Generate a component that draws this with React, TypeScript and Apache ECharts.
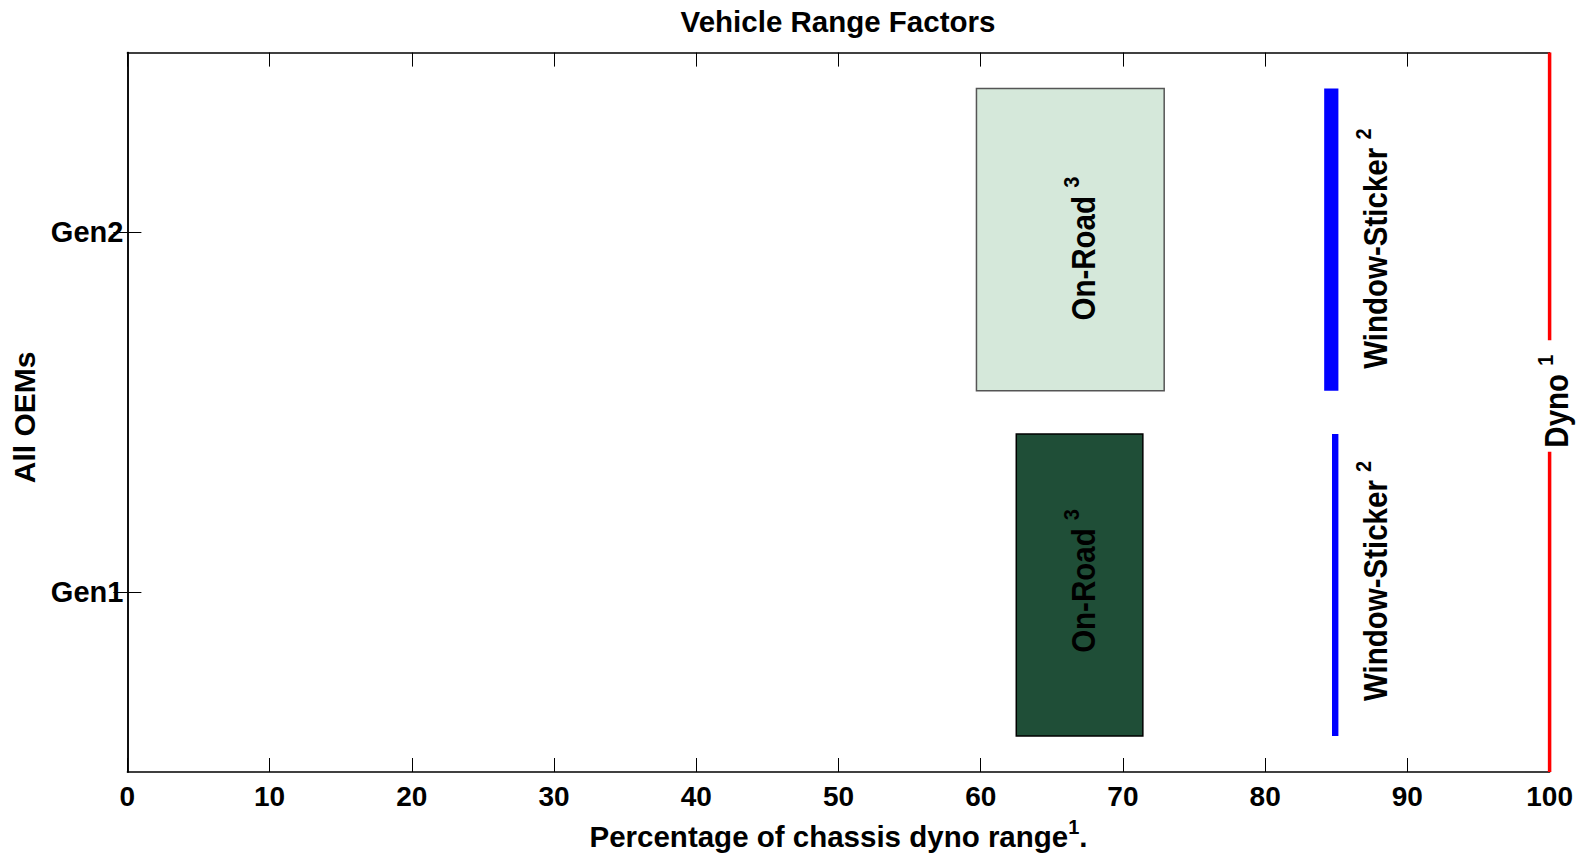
import React, { useEffect, useRef } from 'react';
import * as echarts from 'echarts';

// ---------------- data ----------------
const categories = ['Gen1', 'Gen2'];
const xMin = 0;
const xMax = 100;
const xInterval = 10;
const yMin = 0.5;
const yMax = 2.5;

// On-Road range boxes (percent of dyno range)
const onRoadLow = [62.5, 59.7];
const onRoadHigh = [71.4, 72.9];
const boxBottom = [0.6, 1.56];
const boxTop = [1.44, 2.4];

// Window-sticker range (percent)
const stickerLow = [84.7, 84.15];
const stickerHigh = [85.15, 85.15];

// Dyno reference line
const dynoValue = 100;
const dynoSegments = [
  [0.5, 1.39],
  [1.7, 2.5],
];

// annotation texts
const onRoadText = 'On-Road';
const onRoadNote = '3';
const stickerText = 'Window-Sticker';
const stickerNote = '2';
const dynoText = 'Dyno';
const dynoNote = '1';
const onRoadLabelX = 67.2;

const titleText = 'Vehicle Range Factors';
const xName = 'Percentage of chassis dyno range';
const xNameNote = '1';
const yName = 'All OEMs';

// ---------------- styles ----------------
const FONT = 'Liberation Sans';
const boxFill = ['#1f4e37', '#d5e8da'];
const boxStroke = ['#000000', '#555555'];
const stickerColor = '#0000ff';
const dynoColor = '#ff0000';
const labelShift = [-4, 9];

const rotRich = {
  m: { fontSize: 29.5, fontWeight: 'bold', fontFamily: FONT, lineHeight: 36, verticalAlign: 'bottom', fill: '#000', color: '#000' },
  s: { fontSize: 20, fontWeight: 'bold', fontFamily: FONT, lineHeight: 36, verticalAlign: 'top', fill: '#000', color: '#000' },
};

function rotatedLabel(x: number, y: number, text: string, note: string) {
  return {
    type: 'text',
    x,
    y,
    rotation: Math.PI / 2,
    scaleY: 1.12,
    z2: 10,
    style: {
      text: `{m|${text} }{s|${note}}`,
      rich: rotRich,
      align: 'center',
      verticalAlign: 'middle',
      fill: '#000',
      font: `bold 29.5px ${FONT}`,
    },
  };
}

export default function App() {
  const ref = useRef<HTMLDivElement>(null);

  useEffect(() => {
    if (!ref.current) return;
    const chart = echarts.init(ref.current, undefined, { renderer: 'svg' });

    const axisLine = { show: true, lineStyle: { color: '#000', width: 1.5 } };
    const tickStyle = { color: '#000', width: 1 };

    const option: any = {
      animation: false,
      backgroundColor: '#ffffff',
      title: {
        text: titleText,
        left: 833,
        top: 1,
        textAlign: 'center',
        textStyle: { fontFamily: FONT, fontWeight: 'bold', fontSize: 29.5, color: '#000' },
      },
      grid: { left: 127.4, right: 35.4, top: 52.6, bottom: 80.7, containLabel: false },
      xAxis: [
        {
          type: 'value',
          position: 'bottom',
          min: xMin,
          max: xMax,
          interval: xInterval,
          axisLine,
          axisTick: { show: true, inside: true, length: 14, lineStyle: tickStyle },
          splitLine: { show: false },
          axisLabel: {
            show: true,
            margin: 10,
            fontFamily: FONT,
            fontWeight: 'bold',
            fontSize: 28,
            color: '#000',
          },
          name: `{m|${xName}}{s|${xNameNote}}{m|.}`,
          nameLocation: 'middle',
          nameGap: 45,
          nameTextStyle: {
            fontFamily: FONT,
            fontWeight: 'bold',
            fontSize: 29.5,
            color: '#000',
            rich: {
              m: { fontFamily: FONT, fontWeight: 'bold', fontSize: 29.5, color: '#000', lineHeight: 34, verticalAlign: 'bottom' },
              s: { fontFamily: FONT, fontWeight: 'bold', fontSize: 20, color: '#000', lineHeight: 34, verticalAlign: 'top' },
            },
          },
        },
        {
          type: 'value',
          position: 'top',
          min: xMin,
          max: xMax,
          interval: xInterval,
          axisLine,
          axisTick: { show: true, inside: true, length: 14, lineStyle: tickStyle },
          splitLine: { show: false },
          axisLabel: { show: false },
        },
      ],
      yAxis: [
        {
          type: 'category',
          position: 'left',
          data: categories,
          boundaryGap: true,
          axisLine,
          axisTick: { show: true, inside: true, length: 14, alignWithLabel: true, lineStyle: tickStyle },
          splitLine: { show: false },
          axisLabel: {
            show: true,
            margin: 4,
            fontFamily: FONT,
            fontWeight: 'bold',
            fontSize: 29,
            color: '#000',
          },
          name: yName,
          nameLocation: 'middle',
          nameGap: 86,
          nameTextStyle: { fontFamily: FONT, fontWeight: 'bold', fontSize: 30, color: '#000', padding: [0, 10, 0, 0] },
        },
        {
          type: 'category',
          position: 'right',
          data: categories,
          boundaryGap: true,
          axisLine,
          axisTick: { show: true, inside: true, length: 14, alignWithLabel: true, lineStyle: tickStyle },
          splitLine: { show: false },
          axisLabel: { show: false },
        },
        {
          type: 'value',
          show: false,
          min: yMin,
          max: yMax,
          splitLine: { show: false },
        },
      ],
      series: [
        {
          type: 'custom',
          name: 'On-Road',
          xAxisIndex: 0,
          yAxisIndex: 2,
          clip: false,
          data: categories.map((_, i) => [onRoadLow[i], onRoadHigh[i], boxBottom[i], boxTop[i]]),
          encode: { x: [0, 1], y: [2, 3] },
          renderItem: (params: any, api: any) => {
            const i = params.dataIndex;
            const p0 = api.coord([api.value(0), api.value(3)]);
            const p1 = api.coord([api.value(1), api.value(2)]);
            const c = api.coord([onRoadLabelX, (api.value(2) + api.value(3)) / 2]);
            return {
              type: 'group',
              children: [
                {
                  type: 'rect',
                  shape: { x: p0[0], y: p0[1], width: p1[0] - p0[0], height: p1[1] - p0[1] },
                  style: { fill: boxFill[i], stroke: boxStroke[i], lineWidth: 1.5 },
                },
                rotatedLabel(c[0] - 3, c[1] + labelShift[i], onRoadText, onRoadNote),
              ],
            };
          },
        },
        {
          type: 'custom',
          name: 'Window-Sticker',
          xAxisIndex: 0,
          yAxisIndex: 2,
          clip: false,
          data: categories.map((_, i) => [stickerLow[i], stickerHigh[i], boxBottom[i], boxTop[i]]),
          encode: { x: [0, 1], y: [2, 3] },
          renderItem: (params: any, api: any) => {
            const i = params.dataIndex;
            const p0 = api.coord([api.value(0), api.value(3)]);
            const p1 = api.coord([api.value(1), api.value(2)]);
            const cy = (p0[1] + p1[1]) / 2;
            return {
              type: 'group',
              children: [
                {
                  type: 'rect',
                  shape: { x: p0[0], y: p0[1], width: p1[0] - p0[0], height: p1[1] - p0[1] },
                  style: { fill: stickerColor },
                },
                rotatedLabel(p1[0] + 34, cy + labelShift[i], stickerText, stickerNote),
              ],
            };
          },
        },
        {
          type: 'custom',
          name: 'Dyno',
          xAxisIndex: 0,
          yAxisIndex: 2,
          clip: false,
          data: dynoSegments.map((s) => [dynoValue, s[0], s[1]]),
          encode: { x: 0, y: [1, 2] },
          renderItem: (params: any, api: any) => {
            const a = api.coord([api.value(0), api.value(1)]);
            const b = api.coord([api.value(0), api.value(2)]);
            return {
              type: 'line',
              z2: 5,
              shape: { x1: a[0], y1: a[1], x2: b[0], y2: b[1] },
              style: { stroke: dynoColor, lineWidth: 3.5 },
            };
          },
        },
        {
          type: 'custom',
          name: 'Dyno label',
          xAxisIndex: 0,
          yAxisIndex: 2,
          clip: false,
          data: [[dynoValue, (dynoSegments[0][1] + dynoSegments[1][0]) / 2]],
          encode: { x: 0, y: 1 },
          renderItem: (params: any, api: any) => {
            const c = api.coord([api.value(0), api.value(1)]);
            return rotatedLabel(c[0] + 4, c[1] + 5, dynoText, dynoNote);
          },
        },
      ],
    };

    chart.setOption(option);
    return () => chart.dispose();
  }, []);

  return (
    <div
      ref={ref}
      style={{ position: 'absolute', left: 0, top: 0, width: 1585, height: 856, background: '#fff' }}
    />
  );
}
